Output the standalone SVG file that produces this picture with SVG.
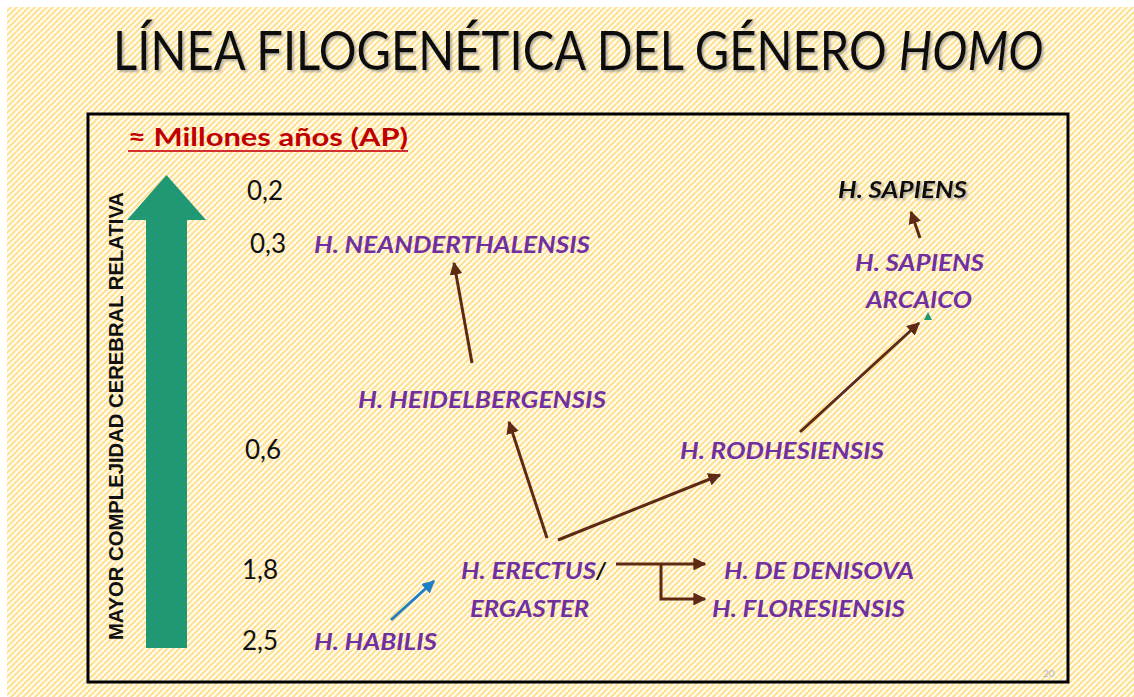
<svg xmlns="http://www.w3.org/2000/svg" width="1134" height="697" viewBox="0 0 1134 697">
  <defs>
    <pattern id="hatch" x="0" y="0" width="6" height="6" patternUnits="userSpaceOnUse">
      <rect width="6" height="6" fill="#ffffff"/>
      <path d="M0,6 L6,0 M-1,1 L1,-1 M5,7 L7,5" stroke="#ffe294" stroke-width="2.3"/>
    </pattern>
    <marker id="brownHead" viewBox="0 0 10 10" refX="9" refY="5" markerWidth="4.3" markerHeight="4.3" orient="auto" markerUnits="strokeWidth">
      <path d="M0,0 L10,5 L0,10 Z" fill="#5e2a14"/>
    </marker>
    <marker id="blueHead" viewBox="0 0 10 10" refX="9" refY="5" markerWidth="4.3" markerHeight="4.3" orient="auto" markerUnits="strokeWidth">
      <path d="M0,0 L10,5 L0,10 Z" fill="#1f7fc3"/>
    </marker>
    <filter id="shadow" x="-5%" y="-20%" width="110%" height="150%">
      <feDropShadow dx="2" dy="2" stdDeviation="1" flood-color="#777777" flood-opacity="0.55"/>
    </filter>
  </defs>
  <style>
    .title { font-family: Lato, "Open Sans", sans-serif; font-size: 47.2px; fill: #111111; }
    .num { font-family: Lato, "Open Sans", sans-serif; font-size: 26px; fill: #111111; }
    .sp { font-family: Lato, "Open Sans", sans-serif; font-size: 23px; font-weight: bold; font-style: italic; fill: #7030a0; }
    .conn { fill: none; stroke: #5e2a14; stroke-width: 3; }
  </style>

  <rect x="0" y="0" width="1134" height="697" fill="#ffffff"/>
  <rect x="7" y="7" width="1127" height="690" fill="url(#hatch)"/>

  <g id="title" filter="url(#shadow)">
    <g transform="translate(113,70) scale(1,1.13)">
      <text class="title" x="0" y="0">LÍNEA FILOGENÉTICA DEL GÉNERO <tspan font-style="italic">HOMO</tspan></text>
    </g>
  </g>

  <rect x="88" y="114" width="980" height="568" fill="none" stroke="#000000" stroke-width="3"/>

  <g id="axis-label">
    <text x="128" y="146" font-family="Lato, 'Open Sans', sans-serif" font-size="25" font-weight="bold" fill="#c00000" textLength="280" lengthAdjust="spacingAndGlyphs">≈ Millones años (AP)</text>
    <line x1="128" y1="151" x2="408" y2="151" stroke="#d43030" stroke-width="2"/>
  </g>

  <g id="complexity-arrow">
    <polygon points="166.5,175 206,220 187,220 187,648 146,648 146,220 127,220" fill="#1f9873"/>
    <text transform="translate(123,416) rotate(-90)" text-anchor="middle" font-family="'Liberation Sans', Arial, sans-serif" font-size="21" font-weight="bold" fill="#111111" textLength="448" lengthAdjust="spacingAndGlyphs">MAYOR COMPLEJIDAD CEREBRAL RELATIVA</text>
  </g>

  <g id="scale">
    <text class="num" x="247" y="200">0,2</text>
    <text class="num" x="250" y="253">0,3</text>
    <text class="num" x="245" y="459">0,6</text>
    <text class="num" x="242" y="579">1,8</text>
    <text class="num" x="242" y="650">2,5</text>
  </g>

  <g id="connectors">
    <line class="conn" x1="472" y1="363" x2="454" y2="263" marker-end="url(#brownHead)"/>
    <line class="conn" x1="547" y1="538" x2="509" y2="422" marker-end="url(#brownHead)"/>
    <line class="conn" x1="558" y1="540" x2="720" y2="475" marker-end="url(#brownHead)"/>
    <line class="conn" x1="800" y1="432" x2="919" y2="323" marker-end="url(#brownHead)"/>
    <line class="conn" x1="920" y1="238" x2="911" y2="212" marker-end="url(#brownHead)"/>
    <line x1="391" y1="620" x2="434" y2="581" stroke="#1f7fc3" stroke-width="3" marker-end="url(#blueHead)"/>
    <line class="conn" x1="616" y1="564" x2="705" y2="564" marker-end="url(#brownHead)"/>
    <polyline class="conn" points="661,564 661,599 705,599" marker-end="url(#brownHead)"/>
  </g>

  <g id="h-sapiens" filter="url(#shadow)">
    <text x="838" y="198" font-family="Lato, 'Open Sans', sans-serif" font-size="23" font-weight="bold" font-style="italic" fill="#111111" textLength="129" lengthAdjust="spacingAndGlyphs">H. SAPIENS</text>
  </g>
  <g id="h-sapiens-arcaico">
    <text class="sp" x="855" y="271" textLength="129" lengthAdjust="spacingAndGlyphs">H. SAPIENS</text>
    <text class="sp" x="866" y="308" textLength="106" lengthAdjust="spacingAndGlyphs">ARCAICO</text>
    <polygon points="924,320 928,312 932,320" fill="#1f9873"/>
  </g>
  <g id="h-neanderthalensis">
    <text class="sp" x="314" y="253" textLength="276" lengthAdjust="spacingAndGlyphs">H. NEANDERTHALENSIS</text>
  </g>
  <g id="h-heidelbergensis">
    <text class="sp" x="358" y="408" textLength="248" lengthAdjust="spacingAndGlyphs">H. HEIDELBERGENSIS</text>
  </g>
  <g id="h-rodhesiensis">
    <text class="sp" x="680" y="459" textLength="204" lengthAdjust="spacingAndGlyphs">H. RODHESIENSIS</text>
  </g>
  <g id="h-erectus-ergaster">
    <text class="sp" x="461" y="579" textLength="135" lengthAdjust="spacingAndGlyphs">H. ERECTUS</text>
    <text x="596" y="579" font-family="Lato, 'Open Sans', sans-serif" font-size="23" font-weight="bold" font-style="italic" fill="#111111">/</text>
    <text class="sp" x="470" y="617" textLength="119" lengthAdjust="spacingAndGlyphs">ERGASTER</text>
  </g>
  <g id="h-de-denisova">
    <text class="sp" x="724" y="579" textLength="190" lengthAdjust="spacingAndGlyphs">H. DE DENISOVA</text>
  </g>
  <g id="h-floresiensis">
    <text class="sp" x="712" y="617" textLength="193" lengthAdjust="spacingAndGlyphs">H. FLORESIENSIS</text>
  </g>
  <g id="h-habilis">
    <text class="sp" x="314" y="650" textLength="123" lengthAdjust="spacingAndGlyphs">H. HABILIS</text>
  </g>

  <text x="1043" y="677" font-family="Lato, 'Open Sans', sans-serif" font-size="10" fill="#b8b8b8">20</text>
</svg>
